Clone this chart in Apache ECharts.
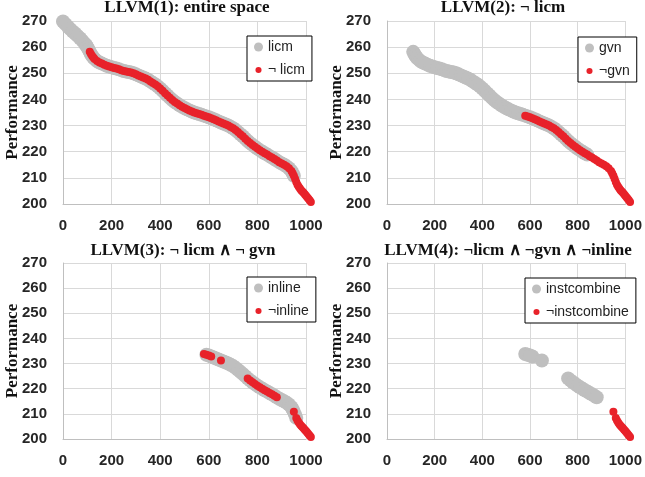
<!DOCTYPE html>
<html><head><meta charset="utf-8">
<script src="https://cdn.jsdelivr.net/npm/echarts@6/dist/echarts.min.js"></script>
<style>html,body{margin:0;padding:0;background:#fff}#c{width:645px;height:477px}</style>
</head><body><div id="c"></div>
<script>
// x ticks / y ticks
const xTicks = [0, 200, 400, 600, 800, 1000];
const yTicks = [200, 210, 220, 230, 240, 250, 260, 270];

// [rank, performance]
const curve = [
 [0,269.8],[10,268.8],[20,267.8],[30,266.9],[40,266.0],[50,265.2],[60,264.3],[70,263.4],[80,262.4],[90,261.3],
 [95,260.7],[100,260.0],[105,259.1],[110,258.2],[115,257.4],[120,256.6],[125,256.0],[130,255.5],[140,254.7],[150,254.1],
 [160,253.7],[170,253.3],[180,252.9],[190,252.6],
 [200,252.3],[210,252.0],[220,251.8],[230,251.5],[240,251.2],[250,250.9],[260,250.7],[270,250.5],[280,250.3],[290,250.0],
 [300,249.6],[310,249.2],[320,248.8],[330,248.4],[340,248.0],[350,247.5],[360,246.9],[370,246.3],[380,245.7],[390,245.0],
 [400,244.2],[410,243.3],[420,242.4],[430,241.5],[440,240.6],[450,239.8],[460,239.0],[470,238.4],[480,237.8],[490,237.2],
 [500,236.7],[510,236.2],[520,235.8],[530,235.4],[540,235.0],[550,234.7],[560,234.4],[570,234.1],[580,233.8],[590,233.5],
 [600,233.2],[610,232.8],[620,232.4],[630,232.0],[640,231.6],[650,231.2],[660,230.8],[670,230.4],[680,230.0],[690,229.5],
 [700,229.0],[710,228.3],[720,227.5],[730,226.7],[740,225.9],[750,225.0],[760,224.1],[770,223.3],[780,222.6],[790,221.9],
 [800,221.2],[810,220.6],[820,220.0],[830,219.4],[840,218.9],[850,218.3],[860,217.8],[870,217.2],[880,216.6],[890,216.0],
 [900,215.5],[910,215.0],[920,214.4],[930,213.7],[940,212.6],[945,211.8],[950,210.8],[955,209.7],[960,208.4],[965,207.4],
 [970,206.6],[975,205.9],[980,205.3],[985,204.8],[990,204.3],[995,203.7],[1000,203.2],[1005,202.6],[1010,202.0],[1015,201.4],
 [1020,200.8]
];

const panelTitles = ['LLVM(1): entire space', 'LLVM(2): \u00ac licm', 'LLVM(3): \u00ac licm \u2227 \u00ac gvn', 'LLVM(4): \u00aclicm \u2227 \u00acgvn \u2227 \u00acinline'];
const greyNames = ['licm', 'gvn', 'inline', 'instcombine'];
const redNames = ['\u00ac licm', '\u00acgvn', '\u00acinline', '\u00acinstcombine'];
// rank ranges belonging to each series
const greyRanges = [[[0,950]], [[110,840]], [[590,960]], [[580,610],[650,650],[760,880]]];
const redRanges = [[[110,1020]], [[580,1020]], [[580,610],[650,650],[760,880],[950,950],[960,1020]], [[950,950],[960,1020]]];

const GREY = '#bfbfbf', RED = '#e8222a';
const grids = [
  {left: 63, top: 21, width: 243, height: 183},
  {left: 387, top: 21, width: 242, height: 183},
  {left: 63, top: 263, width: 243, height: 176},
  {left: 387, top: 263, width: 242, height: 176}
];
const titlePos = [[187, 8], [503, 8], [183, 251], [508, 251]];
const legendPos = [[247, 36], [578, 37], [247, 277], [525, 278]];

function pick(ranges) {
  return curve.filter(p => ranges.some(r => p[0] >= r[0] && p[0] <= r[1]));
}

const smallDot = 'path://M0,0M10,10M1.6,5a3.4,3.4 0 1,0 6.8,0a3.4,3.4 0 1,0 -6.8,0Z';

const option = {
  animation: false,
  backgroundColor: '#fff',
  title: panelTitles.map((t, i) => ({
    text: t, left: titlePos[i][0], top: titlePos[i][1], textAlign: 'center', textVerticalAlign: 'middle', padding: 0,
    textStyle: {fontFamily: 'Liberation Serif', fontWeight: 'bold', fontSize: 17, color: '#111'}
  })),
  grid: grids,
  xAxis: grids.map((g, i) => ({
    gridIndex: i, type: 'value', min: xTicks[0], max: xTicks[xTicks.length - 1], interval: 200,
    axisLine: {show: true, lineStyle: {color: '#bfbfbf', width: 1}},
    axisTick: {show: false},
    splitLine: {show: true, lineStyle: {color: '#d9d9d9', width: 1}},
    axisLabel: {margin: 14, fontFamily: 'Liberation Sans', fontWeight: 'bold', fontSize: 15, color: '#262626',
      formatter: v => String(v)}
  })),
  yAxis: grids.map((g, i) => ({
    gridIndex: i, type: 'value', min: yTicks[0], max: yTicks[yTicks.length - 1], interval: 10,
    name: 'Performance', nameLocation: 'middle', nameGap: 42, nameMoveOverlap: false,
    nameTextStyle: {fontFamily: 'Liberation Serif', fontWeight: 'bold', fontSize: 17, color: '#111'},
    axisLine: {show: true, lineStyle: {color: '#bfbfbf', width: 1}},
    axisTick: {show: false},
    splitLine: {show: true, lineStyle: {color: '#d9d9d9', width: 1}},
    axisLabel: {margin: 16, fontFamily: 'Liberation Sans', fontWeight: 'bold', fontSize: 15, color: '#262626',
      formatter: v => String(v)}
  })),
  legend: grids.map((g, i) => ({
    left: legendPos[i][0], top: legendPos[i][1], orient: 'vertical',
    data: [{name: greyNames[i], icon: 'circle'}, {name: redNames[i], icon: smallDot}],
    itemWidth: 9, itemHeight: 9, itemGap: 9,
    padding: [4, 7, 4, 7],
    borderColor: '#000', borderWidth: 1, backgroundColor: '#fff',
    textStyle: {fontFamily: 'Liberation Sans', fontSize: 14, color: '#222'},
    selectedMode: false
  })),
  series: []
};
for (let i = 0; i < 4; i++) {
  option.series.push({
    type: 'scatter', name: greyNames[i], xAxisIndex: i, yAxisIndex: i, data: pick(greyRanges[i]),
    symbolSize: 14, itemStyle: {color: GREY, opacity: 1}, clip: false, silent: true
  });
  option.series.push({
    type: 'scatter', name: redNames[i], xAxisIndex: i, yAxisIndex: i, data: pick(redRanges[i]),
    symbolSize: 8, itemStyle: {color: RED, opacity: 1}, clip: false, silent: true
  });
}
const chart = echarts.init(document.getElementById('c'), null, {renderer: 'canvas'});
chart.setOption(option);
</script></body></html>
